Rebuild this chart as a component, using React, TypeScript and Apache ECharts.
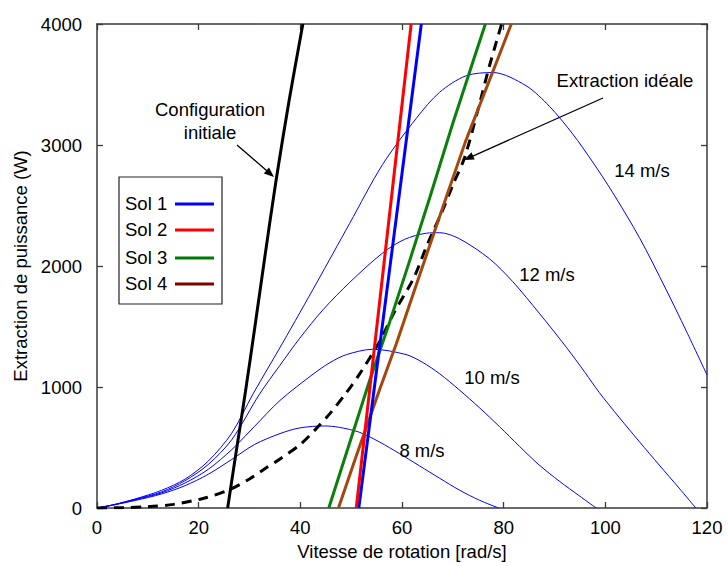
import React, { useEffect, useRef } from "react";
import * as echarts from "echarts";

const FONT = '"Liberation Sans", Arial, Helvetica, sans-serif';
const FS = 18.5;

// Axis ranges / ticks
const X_MIN = 0, X_MAX = 120, X_STEP = 20;
const Y_MIN = 0, Y_MAX = 4000, Y_STEP = 1000;

// Wind power curves [rad/s, W]
const wind8: [number, number][] = [[0,0],[3.5,27],[7.5,62],[12.7,116],[17.3,184],[21.9,279],[26.5,401],[31,525],[36,615],[39.9,662],[44.8,678],[47.5,668],[51.7,625],[55.6,545],[59.5,450],[63.5,347],[67.4,246],[71.3,148],[75.2,65],[79,0]];
const wind10: [number, number][] = [[0,0],[3.5,28],[7.5,68],[12.7,125],[17.3,206],[21.9,320],[26.5,482],[31,675],[36,889],[42.5,1106],[45.8,1201],[49.1,1268],[54.3,1312],[60.8,1268],[64,1205],[67.4,1110],[71.3,975],[75.2,830],[79.2,672],[83.1,510],[87,355],[91,220],[94.9,100],[98.2,0]];
const wind12: [number, number][] = [[0,0],[3.5,28],[7.5,72],[12.7,133],[17.3,225],[21.9,360],[26.5,564],[32,943],[36,1180],[39.9,1404],[44.5,1640],[49.7,1864],[56.2,2108],[60.5,2220],[64.8,2271],[67.4,2275],[71.3,2225],[77.2,2060],[81.8,1870],[87,1610],[92.3,1330],[96,1120],[98.8,955],[102.8,745],[106.7,548],[110.6,355],[114.5,165],[117.8,0]];
const wind14: [number, number][] = [[0,0],[3.5,30],[7.5,75],[12.7,146],[17.3,238],[21.9,388],[26.5,618],[30.7,943],[36.6,1370],[43.2,1860],[49.7,2352],[56.2,2840],[62.8,3220],[67.4,3436],[72.6,3572],[77.9,3599],[84.4,3490],[89,3320],[93.6,3090],[97.5,2860],[101.4,2610],[106.7,2235],[111.9,1810],[115.9,1465],[120,1100]];

// Control curves
const configInitiale: [number, number][] = [[25.7,0],[27.4,470],[29.2,960],[31,1480],[33,2070],[35.2,2700],[37.8,3370],[40.5,4000]];
const extractionIdeale: [number, number][] = [[0,0],[5,3],[10,10],[15,30],[21,80],[26,150],[30,240],[33.3,333],[36,405],[40,525],[43,650],[45.8,780],[49,950],[51.7,1110],[55.6,1377],[58.5,1620],[62.3,1900],[65,2180],[68,2461],[70,2670],[72.3,2894],[75,3300],[77.2,3653],[79.6,4000]];
const sol1: [number, number][] = [[51.5,0],[63.8,4000]];
const sol2: [number, number][] = [[51.0,0],[61.8,4000]];
const sol3: [number, number][] = [[45.6,0],[53.6,1050],[57.6,1540],[61.4,2030],[65.5,2570],[70,3180],[74.1,3707],[76.4,4000]];
const sol4: [number, number][] = [[47.5,0],[51,430],[55.6,980],[58.9,1360],[62.1,1756],[65.4,2163],[68.7,2569],[72.5,3030],[78.8,3707],[81.5,4000]];

const legendNames = ["Sol 1", "Sol 2", "Sol 3", "Sol 4"];
const legendColors = ["#0000ff", "#ff0000", "#007a00", "#800000"];
const windLabels = ["8 m/s", "10 m/s", "12 m/s", "14 m/s"];

const AXIS_COLOR = "#3a3a3a";

export default function App() {
  const ref = useRef<HTMLDivElement>(null);
  useEffect(() => {
    if (!ref.current) return;
    const chart = echarts.init(ref.current, undefined, { renderer: "svg" });
    const axisCommon = {
      type: "value" as const,
      splitLine: { show: false },
      axisLine: { show: true, onZero: false, lineStyle: { color: AXIS_COLOR, width: 1.5 } },
      axisTick: { show: true, inside: true, length: 6, lineStyle: { color: AXIS_COLOR, width: 1.3 } },
    };
    const labelStyle = { fontSize: FS, fontFamily: FONT, color: "#000" };
    const windSeries = [wind8, wind10, wind12, wind14].map((d, i) => ({
      name: windLabels[i],
      type: "line",
      data: d,
      showSymbol: false,
      smooth: 0.3,
      lineStyle: { color: "#0000ff", width: 1 },
      z: 2,
    }));
    const lineText = (text: string, x: number, y: number, align = "center") => ({
      type: "text",
      x,
      y,
      style: { text, fill: "#000", fontSize: FS, fontFamily: FONT, align, verticalAlign: "middle" },
      z: 100,
    });
    const legendGraphic: any[] = [
      { type: "rect", shape: { x: 119, y: 177, width: 103, height: 127 }, style: { fill: "#fff", stroke: "#222", lineWidth: 1.2 }, z: 90 },
    ];
    const legendY = [203, 229, 257, 283];
    legendNames.forEach((n, i) => {
      legendGraphic.push(lineText(n, 125, legendY[i], "left"));
      legendGraphic.push({ type: "line", shape: { x1: 175, y1: legendY[i] + 1, x2: 214, y2: legendY[i] + 1 }, style: { stroke: legendColors[i], lineWidth: 3 }, z: 100 });
    });
    const option: any = {
      animation: false,
      backgroundColor: "#fff",
      grid: { left: 97, right: 21, top: 24, bottom: 50, containLabel: false },
      xAxis: [
        {
          ...axisCommon,
          min: X_MIN, max: X_MAX, interval: X_STEP, position: "bottom",
          axisLabel: { ...labelStyle, margin: 10, formatter: (v: number) => String(v) },
          name: "Vitesse de rotation [rad/s]",
          nameLocation: "middle",
          nameGap: 34,
          nameTextStyle: labelStyle,
        },
        {
          ...axisCommon,
          min: X_MIN, max: X_MAX, interval: X_STEP, position: "top",
          axisLabel: { show: false },
        },
      ],
      yAxis: [
        {
          ...axisCommon,
          min: Y_MIN, max: Y_MAX, interval: Y_STEP, position: "left",
          axisLabel: { ...labelStyle, margin: 15, formatter: (v: number) => String(v) },
          name: "Extraction de puissance (W)",
          nameLocation: "middle",
          nameGap: 63,
          nameTextStyle: labelStyle,
        },
        {
          ...axisCommon,
          min: Y_MIN, max: Y_MAX, interval: Y_STEP, position: "right",
          axisLabel: { show: false },
        },
      ],
      series: [
        ...windSeries,
        {
          name: "Configuration initiale", type: "line", data: configInitiale, showSymbol: false, smooth: 0.3,
          lineStyle: { color: "#000", width: 3 }, z: 3,
        },
        {
          name: "Extraction idéale", type: "line", data: extractionIdeale, showSymbol: false, smooth: 0.3,
          lineStyle: { color: "#000", width: 3, type: [10, 7] }, z: 4,
        },
        { name: "Sol 3", type: "line", data: sol3, showSymbol: false, lineStyle: { color: "#0a7f0a", width: 3 }, z: 5 },
        { name: "Sol 4", type: "line", data: sol4, showSymbol: false, lineStyle: { color: "#a3470f", width: 3 }, z: 5 },
        { name: "Sol 1", type: "line", data: sol1, showSymbol: false, lineStyle: { color: "#0000ff", width: 3 }, z: 6 },
        { name: "Sol 2", type: "line", data: sol2, showSymbol: false, lineStyle: { color: "#ff0000", width: 3 }, z: 6 },
      ],
      graphic: [
        ...legendGraphic,
        lineText("Configuration", 210, 109),
        lineText("initiale", 210, 132),
        { type: "line", shape: { x1: 237, y1: 145, x2: 270, y2: 173.5 }, style: { stroke: "#000", lineWidth: 1.3 }, z: 100 },
        { type: "polygon", shape: { points: [[274, 177], [263.8, 173.5], [269, 167.5]] }, style: { fill: "#000" }, z: 100 },
        lineText("Extraction idéale", 625, 80),
        { type: "line", shape: { x1: 603, y1: 98, x2: 469, y2: 157.8 }, style: { stroke: "#000", lineWidth: 1.3 }, z: 100 },
        { type: "polygon", shape: { points: [[464, 160], [471.5, 152.3], [474.7, 159.6]] }, style: { fill: "#000" }, z: 100 },
        lineText("14 m/s", 642, 170),
        lineText("12 m/s", 547, 274),
        lineText("10 m/s", 492, 377),
        lineText("8 m/s", 422, 450),
      ],
    };
    chart.setOption(option);
    return () => chart.dispose();
  }, []);
  return (
    <div
      ref={ref}
      style={{ position: "absolute", left: 0, top: 0, width: 728, height: 566, background: "#fff" }}
    />
  );
}
